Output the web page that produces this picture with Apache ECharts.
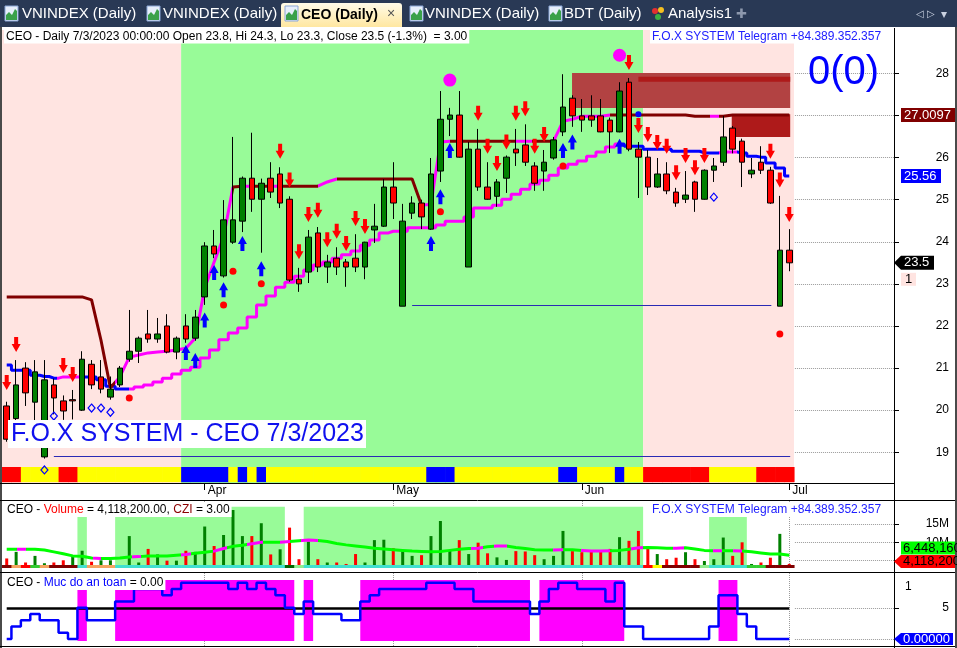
<!DOCTYPE html>
<html>
<head>
<meta charset="utf-8">
<title>CEO (Daily)</title>
<script src="https://cdn.jsdelivr.net/npm/echarts@6.0.0/dist/echarts.min.js"></script>
<style>
html,body{margin:0;padding:0;background:#ffffff;overflow:hidden;}
#chart{width:957px;height:648px;}
</style>
</head>
<body>
<div id="chart"></div>
<script>
// ================= DATA =================
const ticker = 'CEO';
const lastDate = '7/3/2023';
const monthTicks = [21, 41, 61, 83];
const monthLabels = ['Apr', 'May', 'Jun', 'Jul'];
const priceTicks = [19, 20, 21, 22, 23, 24, 25, 26, 27, 28];
const volumeTicks = [5, 10, 15];      // millions
const safetyTicks = [0, 5];

const open = [20.10,19.80,21.00,20.19,18.89,20.60,20.22,20.25,20.00,21.09,
  20.79,20.31,20.60,21.21,21.40,21.81,21.69,22.00,21.38,22.00,
  21.71,22.69,23.90,23.19,23.99,24.49,25.51,25.01,25.51,25.61,
  25.01,23.11,23.28,24.21,23.40,23.61,23.52,23.61,23.40,24.28,
  24.37,25.30,22.47,24.68,24.92,24.30,25.68,26.91,27.01,23.40,
  26.20,25.30,25.08,25.51,26.20,26.30,25.80,25.68,25.99,26.61,
  27.41,26.99,26.99,26.99,26.89,26.61,27.79,26.20,26.01,25.30,
  25.61,25.18,25.01,25.42,25.01,25.70,25.89,26.70,26.39,25.61,
  25.89,25.70,22.47,23.8];
const high = [20.20,21.19,21.14,21.19,21.19,20.75,20.35,20.48,21.40,21.19,
  21.19,20.80,21.05,22.38,21.75,22.38,22.19,22.28,21.75,22.28,
  22.38,23.99,24.28,24.99,26.49,25.55,26.59,25.50,25.89,25.77,
  25.08,23.38,24.28,24.35,23.69,23.87,23.59,24.18,24.00,24.90,
  25.49,25.89,24.90,25.08,25.00,25.99,27.58,27.18,27.58,26.37,
  26.68,25.89,25.49,26.05,26.68,26.79,25.89,26.18,26.49,27.98,
  27.48,27.39,27.48,27.39,26.95,27.79,27.89,26.37,26.18,25.99,
  25.89,25.28,25.68,25.45,25.72,25.99,26.99,26.75,26.45,25.99,
  26.27,25.78,25.09,24.3];
const low = [19.25,19.70,20.10,19.65,18.85,19.90,19.77,19.78,19.98,20.50,
  20.40,20.25,20.55,21.15,21.12,21.60,21.60,21.35,21.21,21.60,
  21.65,22.50,23.61,23.15,23.95,24.23,24.71,23.74,25.04,24.80,
  23.05,22.81,23.02,23.28,23.02,23.21,22.93,23.28,23.11,23.97,
  24.35,24.54,22.47,24.54,24.30,24.28,25.42,26.51,26.00,23.40,
  25.21,25.00,24.83,25.16,25.80,25.80,25.21,25.21,25.95,26.51,
  26.73,26.61,26.73,26.60,26.11,26.60,26.15,25.04,25.11,25.28,
  25.13,24.83,24.92,24.71,25.00,25.42,25.80,26.10,25.30,25.51,
  25.61,24.90,22.47,23.3];
const close = [19.31,20.60,20.41,20.91,20.72,20.29,19.98,20.22,21.21,20.60,
  20.50,20.50,21.00,21.40,21.71,21.69,21.81,21.38,21.71,21.69,
  22.21,23.90,23.71,24.52,24.52,25.51,25.01,25.39,25.18,24.92,
  23.09,23.00,24.11,23.40,23.52,23.40,23.40,23.40,23.99,24.37,
  25.30,24.92,24.49,24.92,24.59,25.61,26.91,27.01,26.01,26.20,
  25.30,25.01,25.42,26.01,26.11,25.89,25.39,25.89,26.42,27.20,
  26.99,26.89,26.89,26.61,26.61,27.58,26.20,26.01,25.30,25.61,
  25.21,24.92,25.11,25.01,25.70,25.80,26.49,26.20,25.89,25.70,
  25.70,24.92,23.8,23.5];

// trailing stop (blue / magenta staircase)
const trailStop = [21.07,20.95,20.95,20.83,20.80,20.76,20.79,20.79,20.79,20.79,
  20.72,20.57,20.50,20.50,20.55,20.60,20.67,20.76,20.86,20.95,
  21.02,21.24,21.43,21.67,21.83,21.95,22.21,22.50,22.71,22.92,
  23.04,23.18,23.33,23.45,23.52,23.61,23.69,23.78,23.92,24.04,
  24.21,24.25,24.25,24.33,24.33,24.33,24.40,24.49,24.49,24.59,
  24.80,24.80,24.87,25.01,25.13,25.25,25.37,25.46,25.58,25.75,
  25.84,25.92,26.03,26.13,26.25,26.32,26.27,26.27,26.20,26.20,
  26.20,26.15,26.15,26.15,26.11,26.11,26.13,26.13,26.11,26.03,
  26.01,25.87,25.75,25.56];
// resistance line (maroon / magenta)
const resistance = [22.69,22.69,22.69,22.69,22.69,22.69,22.69,22.69,22.69,22.62,
  21.66,20.53,20.79,21.26,21.31,21.36,21.38,21.40,21.43,21.47,
  21.71,22.90,23.52,24.11,25.30,25.32,25.32,25.32,25.32,25.32,
  25.32,25.32,25.32,25.32,25.42,25.49,25.49,25.49,25.49,25.49,
  25.49,25.49,25.49,25.49,24.87,24.89,26.37,26.39,26.39,26.39,
  26.39,26.39,26.39,26.39,26.39,26.39,26.39,26.39,26.39,26.86,
  26.91,26.98,26.98,26.98,27.0097,27.0097,27.0097,27.0097,27.0097,27.0097,
  27.0097,27.0097,27.0097,26.98,26.98,26.98,26.98,27.0097,27.0097,27.0097,
  27.0097,27.0097,27.0097,27.0097];
const trailMagenta = [[5.3,7.8],[13,65.3],[75.5,77.5]];
const resistMagenta = [[11.5,24],[25,26],[28,29],[33,35],[44.3,47],[54,55.7],[58,64],[74.6,75.6]];

// signal markers [bar, price]
const sellArrows = [[0,20.66],[1,21.56],[6,21.06],[7,20.85],[29,26.15],[30,25.47],[31,23.76],[32,24.65],
  [33,24.75],[34,24.05],[35,24.25],[36,23.96],[37,24.55],[38,24.36],[50,27.05],[51,26.27],[52,25.86],
  [53,26.37],[54,27.05],[55,27.16],[56,26.27],[57,26.55],[66,28.26],[67,26.76],[68,26.55],[69,26.36],
  [70,26.27],[71,25.64],[72,26.05],[73,25.76],[74,26.05],[81,26.15],[82,25.47],[83,24.65]];
const buyArrows = [[19,21.37],[20,21.18],[21,22.14],[22,23.27],[23,22.86],[25,23.96],[27,23.36],
  [45,23.96],[46,25.07],[47,26.17],[59,26.17],[60,26.37],[65,26.27]];
const redDots = [[13,20.29],[23,22.50],[24,23.30],[27,23.00],[46,24.71],[59,25.80],[82,21.81]];
const blueDiamonds = [[4,18.58],[5,19.86],[9,20.05],[10,20.05],[11,19.95],[75,25.06]];
const blueDots = [[67,27.03]];
const magentaDots = [[47,27.84],[65,28.43]];

// zones
const trendZones = [[-0.5,18.5,'down'],[18.5,67.5,'up'],[67.5,83.5,'down']];
const supplyZones = [[59.96,83.1,27.18,28.01,'a'],[67,83.1,27.80,27.92,'b'],[76.9,83.1,26.49,27.03,'b']];
const supportLines = [[43,81.1,22.50],[5,83.1,18.91]];
// bottom ribbon of the price pane: R red, Y yellow, B blue
const ribbon = ['RR','YYYY','RR','YYYYYYYYYYY','BBBBB','Y','B','Y','B','YYYYYYYYYYYYYYYYY',
  'BBB','YYYYYYYYYYY','BB','YYYY','B','YY','RRRRRRR','YYYYY','RRRR'].join('');

// volume pane (millions)
const volume = [5.6,7.4,4.5,6.3,4.3,4.5,5.1,6.5,7.7,4.7,
  5.1,5.1,3.8,11.7,4.5,8.2,6.7,5.0,5.0,7.7,
  7.4,14.3,9.0,12.0,18.8,11.7,11.7,15.2,6.7,8.1,
  14.0,5.4,10.2,5.4,4.5,4.5,4.1,6.8,4.5,10.6,
  10.7,8.4,7.7,6.3,6.5,11.7,15.8,7.7,10.6,6.8,
  9.9,7.0,5.9,5.2,7.6,7.5,6.5,5.4,6.3,13.1,
  7.6,7.3,7.7,7.7,8.2,11.4,10.4,13.1,8.5,6.8,
  5.4,5.8,7.3,5.4,4.9,5.4,11.3,6.3,10.0,4.1,
  4.5,5.8,12.3,4.1182];
const volumeUp = [0,1,0,1,1,0,0,1,1,0, 1,1,1,1,1,0,1,0,1,0, 1,1,0,1,1,1,0,1,0,1,
  0,0,1,0,1,0,0,0,1,1, 1,0,1,1,0,1,1,1,0,1, 0,0,1,1,0,0,0,1,1,1,
  0,0,0,0,0,1,0,0,0,1, 0,0,1,0,1,1,1,0,0,1, 0,0,1,0];
const volumeMA = [8.1,8.1,8.1,8.1,7.9,7.4,6.9,6.3,6.2,5.7,
  5.6,5.6,5.7,6.0,6.1,6.3,6.3,6.3,6.5,6.7,
  7.0,7.3,7.6,8.3,8.9,9.2,9.6,10.0,10.0,10.0,
  10.2,10.4,10.6,10.5,10.2,9.7,9.3,9.0,8.7,8.4,
  8.2,8.0,7.8,7.6,7.5,7.4,7.5,7.8,8.1,8.3,
  8.4,8.8,9.0,9.0,8.6,8.3,8.0,7.9,7.9,8.0,
  8.0,7.8,7.6,7.6,7.7,7.8,8.1,8.5,8.6,8.5,
  8.4,8.4,8.5,8.2,7.8,7.7,7.7,7.7,7.6,7.4,
  7.1,6.8,6.8,6.44816];
const volumeMagenta = [[1.1,2],[9.2,10],[13.3,14.2],[18.5,19.5],[21.9,23.4],[25.5,27.2],[29,30],[31.2,33],
  [49.2,50.5],[51.7,53.1],[57.9,59],[60.9,64],[66.2,67.5],[70.7,71.8],[74.9,75.9],[77,78]];
const volumeZones = [[7.5,8.5],[11.5,29.5],[31.5,67.5],[74.5,78.5]];
// D darkred, S sandy, R red, G green, T turquoise, K dark green, L light green, Y yellow
const volumeStrip = ['DSRGSDDD','T','SSS','TTTTTTTTT','TTTTTTTTT','K','L',
  'TTTTTTTTT','TTTTTTTTT','TTTTTTTTT','TTTTTTTTT','R','Y','DDDD','L','TTTT','GG','DDD'].join('');

// "Muc do an toan" pane
const safety = [0,2,3,4,3,3,1,0,5,3, 3,3,6,6,8,8,8,7,8,9, 9,9,9,9,8,9,8,9,8,7,
  5,4,6,4,4,4,3,3,6,7, 8,8,8,8,8,9,9,9,8,8, 6,6,6,6,6,6,4,6,8,9,
  9,8,8,8,6,9,2,2,0,0, 0,0,0,0,0,2,7,7,4,2, 0,0,0,0];
const safetyLevel = 5;
const safetyZones = [[7.5,8.5],[11.5,30.5],[31.5,32.5],[37.5,55.5],[56.5,65.5],[75.5,77.5]];

// ================= STYLE =================
const FONT = '"Liberation Sans", Arial, sans-serif';
const COL = {pink:'#ffe4e1', green:'#98fb98', up:'#008000', down:'#ff0000', blue:'#0000ff',
  magenta:'#ff00ff', maroon:'#800000', navy:'#2a2ab4'};
const ribbonColors = {R:'#ff0000', Y:'#ffff00', B:'#0000ff'};
const stripColors = {D:'#800000', S:'#f4a460', R:'#ff0000', G:'#32cd32', T:'#40e0d0', K:'#006400', L:'#90ee90', Y:'#ffff00'};
const X_MIN = -0.5, X_MAX = 94.11;
const RIB = [18.29, 18.65];
const STRIP = [3.0, 3.82];
const downArrow = 'path://M2.5,0 L6.5,0 L6.5,7 L9,7 L4.5,15 L0,7 L2.5,7 Z';
const upArrow = 'path://M4.5,0 L9,8 L6.5,8 L6.5,15 L2.5,15 L2.5,8 L0,8 Z';

const chart = echarts.init(document.getElementById('chart'), null, {renderer:'canvas', width:957, height:648});

function hiddenX(gi){ return {gridIndex:gi, type:'value', min:X_MIN, max:X_MAX, show:false}; }
function rightY(gi, min, max, ticks, labels, fmt){
  return {gridIndex:gi, type:'value', position:'right', min:min, max:max,
    axisLine:{show:false, onZero:false},
    axisTick:{show:true, customValues:ticks, length:5, lineStyle:{color:'#000'}},
    axisLabel:{show:true, customValues:labels, align:'right', margin:55, color:'#000', fontSize:12, fontFamily:FONT, formatter:fmt},
    splitLine:{show:false}};
}
const rightGrid = (vals) => vals.map(v => [{coord:[83.6, v]}, {coord:[X_MAX, v]}]);

function bandRenderer(colors, codes, range){
  return function(params, api){
    const i = api.value(0);
    const a = api.coord([i - 0.5, range[1]]);
    const b = api.coord([i + 0.5, range[0]]);
    return {type:'rect', shape:{x:a[0], y:a[1], width:b[0]-a[0]+0.6, height:b[1]-a[1]},
      style:{fill: colors[codes[i]]}};
  };
}

const option = {
  animation:false,
  backgroundColor:'#ffffff',
  grid:[
    {left:2, top:30, width:892, height:453},
    {left:2, top:500, width:892, height:68},
    {left:2, top:573, width:892, height:73}
  ],
  xAxis:[
    {gridIndex:0, type:'value', min:X_MIN, max:X_MAX, position:'bottom',
      axisLine:{show:true, onZero:false, lineStyle:{color:'#000', width:1}},
      axisTick:{show:true, customValues:monthTicks, length:7, inside:false, lineStyle:{color:'#000'}},
      axisLabel:{show:true, customValues:monthTicks, align:'left', margin:2, padding:[0,0,0,3],
        color:'#000', fontSize:12, fontFamily:FONT,
        formatter: v => monthLabels[monthTicks.indexOf(v)] || ''},
      splitLine:{show:false}},
    hiddenX(1), hiddenX(2)
  ],
  yAxis:[
    rightY(0, 18.27, 29.03, priceTicks, priceTicks, v => String(v)),
    rightY(1, 3.0, 3.0 + 68/3.67, volumeTicks, [10, 15], v => v + 'M'),
    rightY(2, -1.12, 10.56, safetyTicks, [5], v => String(v))
  ],
  visualMap:[
    {type:'piecewise', show:false, seriesIndex:1, dimension:0,
      pieces: trailMagenta.map(p => ({gte:p[0], lte:p[1], color:COL.magenta})), outOfRange:{color:COL.blue}},
    {type:'piecewise', show:false, seriesIndex:2, dimension:0,
      pieces: resistMagenta.map(p => ({gte:p[0], lte:p[1], color:COL.magenta})), outOfRange:{color:COL.maroon}},
    {type:'piecewise', show:false, seriesIndex:12, dimension:0,
      pieces: volumeMagenta.map(p => ({gte:p[0], lte:p[1], color:COL.magenta})), outOfRange:{color:'#00ff00'}}
  ],
  series:[
    // 0 ribbon + trend backgrounds + right-side grid lines
    {type:'custom', name:'ribbon', xAxisIndex:0, yAxisIndex:0, z:2, silent:true,
      data: ribbon.split('').map((c, i) => [i, 0]),
      renderItem: bandRenderer(ribbonColors, ribbon, RIB),
      markArea:{silent:true, z:0, data: trendZones.map(t => [
        {xAxis:t[0], itemStyle:{color: t[2] === 'up' ? COL.green : COL.pink}}, {xAxis:t[1]}])},
      markLine:{silent:true, z:1, symbol:'none', label:{show:false},
        lineStyle:{type:'dotted', color:'#9a9a9a', width:1}, data: rightGrid(priceTicks)}},
    // 1 trailing stop
    {type:'line', name:'trail', xAxisIndex:0, yAxisIndex:0, z:2, step:'middle', showSymbol:false, silent:true,
      data: trailStop.map((v, i) => [i, v]), lineStyle:{width:3}},
    // 2 resistance
    {type:'line', name:'resistance', xAxisIndex:0, yAxisIndex:0, z:2, showSymbol:false, silent:true,
      data: resistance.map((v, i) => [i, v]), lineStyle:{width:3}},
    // 3 candles
    {type:'candlestick', name:ticker, xAxisIndex:0, yAxisIndex:0, z:3, barWidth:6, silent:true,
      data: open.map((o, i) => [i, o, close[i], low[i], high[i]]),
      itemStyle:{color:COL.up, color0:COL.down, borderColor:'#000', borderColor0:'#000', borderWidth:1},
      markArea:{silent:true, z:1, data: supplyZones.map(z => [
        {coord:[z[0], z[3]], itemStyle:{color: z[4] === 'a' ? '#b24242' : '#ae1a1a'}}, {coord:[z[1], z[2]]}])},
      markLine:{silent:true, z:2, symbol:'none', label:{show:false},
        lineStyle:{type:'solid', color:COL.navy, width:1},
        data: supportLines.map(s => [{coord:[s[0], s[2]]}, {coord:[s[1], s[2]]}])}},
    // 4 sell arrows
    {type:'scatter', xAxisIndex:0, yAxisIndex:0, z:5, silent:true, data:sellArrows,
      symbol:downArrow, symbolSize:[9,15], itemStyle:{color:'#ff0000', opacity:1}},
    // 5 buy arrows
    {type:'scatter', xAxisIndex:0, yAxisIndex:0, z:5, silent:true, data:buyArrows,
      symbol:upArrow, symbolSize:[9,15], itemStyle:{color:'#0000ff', opacity:1}},
    // 6 red dots
    {type:'scatter', xAxisIndex:0, yAxisIndex:0, z:5, silent:true, data:redDots,
      symbol:'circle', symbolSize:7, itemStyle:{color:'#ff0000', opacity:1}},
    // 7 hollow diamonds
    {type:'scatter', xAxisIndex:0, yAxisIndex:0, z:5, silent:true, data:blueDiamonds,
      symbol:'diamond', symbolSize:[7,8], itemStyle:{color:'rgba(0,0,0,0)', borderColor:'#0000ff', borderWidth:1.2, opacity:1}},
    // 8 blue dot
    {type:'scatter', xAxisIndex:0, yAxisIndex:0, z:5, silent:true, data:blueDots,
      symbol:'circle', symbolSize:6, itemStyle:{color:'#0000ff', opacity:1}},
    // 9 magenta dots
    {type:'scatter', xAxisIndex:0, yAxisIndex:0, z:5, silent:true, data:magentaDots,
      symbol:'circle', symbolSize:13, itemStyle:{color:'#ff00ff', opacity:1}},
    // 10 volume bars
    {type:'bar', name:'Volume', xAxisIndex:1, yAxisIndex:1, z:2, barWidth:3, silent:true,
      data: volume.map((v, i) => ({value:[i, v], itemStyle:{color: volumeUp[i] ? COL.up : COL.down}})),
      markArea:{silent:true, z:1, itemStyle:{color:COL.green},
        data: volumeZones.map(z => [{coord:[z[0], STRIP[1]]}, {coord:[z[1], 19.7]}])},
      markLine:{silent:true, z:0, symbol:'none', label:{show:false},
        lineStyle:{type:'dotted', color:'#9a9a9a', width:1},
        data: rightGrid(volumeTicks).concat(monthTicks.map(m => ({xAxis:m})))}},
    // 11 volume strip
    {type:'custom', xAxisIndex:1, yAxisIndex:1, z:4, silent:true,
      data: volumeStrip.split('').map((c, i) => [i, 0]),
      renderItem: bandRenderer(stripColors, volumeStrip, STRIP)},
    // 12 volume MA
    {type:'line', xAxisIndex:1, yAxisIndex:1, z:3, showSymbol:false, silent:true,
      data: volumeMA.map((v, i) => [i, v]), lineStyle:{width:3}},
    // 13 safety step line
    {type:'line', name:'Muc do an toan', xAxisIndex:2, yAxisIndex:2, z:3, step:'middle', showSymbol:false, silent:true,
      data: safety.map((v, i) => [i, v]), lineStyle:{color:COL.blue, width:2.5}, itemStyle:{color:COL.blue},
      markArea:{silent:true, z:1, itemStyle:{color:COL.magenta},
        data: safetyZones.map(z => [{coord:[z[0], 9.44]}, {coord:[z[1], -0.32]}])},
      markLine:{silent:true, z:2, symbol:'none', label:{show:false},
        data: [[{coord:[0, safetyLevel], lineStyle:{type:'solid', color:'#000', width:2.5}}, {coord:[83, safetyLevel]}]]
          .concat(rightGrid(safetyTicks).map(p => [Object.assign({lineStyle:{type:'dotted', color:'#9a9a9a', width:1}}, p[0]), p[1]]))}},
    // 14 month dividers under safety blocks
    {type:'line', xAxisIndex:2, yAxisIndex:2, z:0, silent:true, showSymbol:false,
      data: [[X_MAX + 5, 0]],
      markLine:{silent:true, z:0, symbol:'none', label:{show:false},
        lineStyle:{type:'dotted', color:'#9a9a9a', width:1}, data: monthTicks.map(m => ({xAxis:m}))}}
  ]
};
chart.setOption(option);

// ================= TEXT & DECORATION =================
const yPix = (axis, v) => chart.convertToPixel({yAxisIndex:axis}, v);
const fmtInt = v => Math.round(v * 1e6).toLocaleString('en-US');
const n = close.length - 1;
const pct = ((close[n] - close[n-1]) / close[n-1] * 100).toFixed(1);

const G = [];
function txt(x, y, text, opt){
  G.push(Object.assign({type:'text', x:x, y:y, z:100, silent:true,
    style:Object.assign({text:text, fill:'#000', font:'12px ' + FONT, verticalAlign:'middle'}, opt || {})}));
}
function rect(x, y, w, h, fill, extra){
  G.push(Object.assign({type:'rect', z:100, silent:true, shape:{x:x, y:y, width:w, height:h}, style:{fill:fill}}, extra || {}));
}
function hline(x1, x2, y, color, w){
  G.push({type:'line', z:100, silent:true, shape:{x1:x1, y1:y, x2:x2, y2:y}, style:{stroke:color, lineWidth:w || 1}});
}
function vline(x, y1, y2, color, w){
  G.push({type:'line', z:100, silent:true, shape:{x1:x, y1:y1, x2:x, y2:y2}, style:{stroke:color, lineWidth:w || 1}});
}

// tab bar
rect(0, 0, 957, 27, '#293955');
G.push({type:'rect', z:100, silent:true, shape:{x:281, y:3, width:121, height:24, r:[3,3,0,0]},
  style:{fill:{type:'linear', x:0, y:0, x2:0, y2:1, colorStops:[{offset:0, color:'#fffbe8'}, {offset:1, color:'#ffe7a0'}]}}});
function tabIcon(x){
  rect(x, 6, 13, 15, '#e6eefb', {style:{fill:'#e6eefb', stroke:'#8aa6d6', lineWidth:1}});
  G.push({type:'polygon', z:101, silent:true, shape:{points:[[x+1,20],[x+1,15],[x+4,12],[x+7,15],[x+10,9],[x+12,11],[x+12,20]]},
    style:{fill:'#3aa14a'}});
}
[5, 147, 285, 410, 549].forEach(tabIcon);
txt(22, 14, 'VNINDEX (Daily)', {fill:'#ffffff', font:'15px ' + FONT});
txt(163, 14, 'VNINDEX (Daily)', {fill:'#ffffff', font:'15px ' + FONT});
txt(301, 15, ticker + ' (Daily)', {fill:'#000000', font:'bold 14px ' + FONT});
txt(387, 14, '×', {fill:'#555555', font:'14px ' + FONT});
txt(425, 14, 'VNINDEX (Daily)', {fill:'#ffffff', font:'15px ' + FONT});
txt(564, 14, 'BDT (Daily)', {fill:'#ffffff', font:'15px ' + FONT});
G.push({type:'circle', z:101, silent:true, shape:{cx:655, cy:11, r:3}, style:{fill:'#e53030'}});
G.push({type:'circle', z:101, silent:true, shape:{cx:661, cy:10, r:3}, style:{fill:'#f5c020'}});
G.push({type:'circle', z:101, silent:true, shape:{cx:658, cy:17, r:3}, style:{fill:'#3cb043'}});
txt(668, 14, 'Analysis1', {fill:'#ffffff', font:'15px ' + FONT});
txt(736, 14, '✚', {fill:'#8d98ad', font:'13px ' + FONT});
txt(916, 14, '◁', {fill:'#c9d1e0', font:'10px ' + FONT});
txt(927, 14, '▷', {fill:'#c9d1e0', font:'10px ' + FONT});
txt(941, 15, '▾', {fill:'#c9d1e0', font:'12px ' + FONT});

// frame
rect(0, 27, 957, 3, '#ffffff');
rect(0, 27, 2, 621, '#4a4a4a');
rect(955, 27, 2, 621, '#4a4a4a');
vline(894.5, 28, 648, '#000');
hline(0, 894, 483.5, '#000');
hline(0, 955, 500.5, '#000');
hline(0, 955, 572.5, '#000');
hline(0, 955, 646.5, '#000');

// pane titles
txt(4, 36.5, ticker + ' - Daily ' + lastDate + ' 00:00:00 Open ' + open[n] + ', Hi ' + high[n] + ', Lo ' + low[n] +
  ', Close ' + close[n] + ' (' + pct + '%)  = 3.00', {backgroundColor:'#ffffff', padding:[1,2,1,2]});
txt(650, 36.5, 'F.O.X SYSTEM Telegram +84.389.352.357', {fill:'#2020ff', backgroundColor:'#ffffff', padding:[1,2,1,2]});
txt(5, 510, '{k|' + ticker + ' - }{r|Volume}{k| = ' + fmtInt(volume[n]) + '.00, }{m|CZI}{k| = 3.00}',
  {backgroundColor:'#ffffff', padding:[1,2,1,2],
   rich:{k:{fill:'#000', font:'12px ' + FONT}, r:{fill:'#ff0000', font:'12px ' + FONT}, m:{fill:'#8b0000', font:'12px ' + FONT}}});
txt(650, 510, 'F.O.X SYSTEM Telegram +84.389.352.357', {fill:'#2020ff', backgroundColor:'#ffffff', padding:[1,2,1,2]});
txt(5, 583, '{k|' + ticker + ' - }{b|Muc do an toan}{k| = ' + safety[n].toFixed(2) + '}',
  {backgroundColor:'#ffffff', padding:[1,2,1,2],
   rich:{k:{fill:'#000', font:'12px ' + FONT}, b:{fill:'#0000ff', font:'12px ' + FONT}}});

// big annotations
rect(8, 420, 358, 28, '#ffffff');
txt(11, 434.5, 'F.O.X SYSTEM - ' + ticker + ' ' + lastDate, {fill:'#1010ee', font:'25px ' + FONT});
txt(808, 73, '0(0)', {fill:'#0000ff', font:'40px ' + FONT});

// right-side value labels
const yRes = yPix(0, resistance[n]);
rect(901, yRes - 7, 54, 14, '#800000');
txt(904, yRes, resistance[n].toFixed(4), {fill:'#ffffff', font:'13px ' + FONT});
const yTr = yPix(0, trailStop[n]);
rect(901, yTr - 7, 40, 14, '#0000ff');
txt(904, yTr, trailStop[n].toFixed(2), {fill:'#ffffff', font:'13px ' + FONT});
const yCl = yPix(0, close[n]);
G.push({type:'polygon', z:100, silent:true, shape:{points:[[894,yCl],[901,yCl-7],[934,yCl-7],[934,yCl+7],[901,yCl+7]]}, style:{fill:'#000'}});
txt(904, yCl, String(close[n]), {fill:'#ffffff', font:'13px ' + FONT});
rect(901, yCl + 10, 15, 13, '#ffe4e1');
txt(905, yCl + 16.5, '1', {font:'13px ' + FONT});

const volBottom = 568;
const yVol = Math.min(yPix(1, volume[n]), volBottom - 6.5);
const yMA = Math.min(yPix(1, volumeMA[n]), yVol - 13.5);
G.push({type:'polygon', z:100, silent:true, shape:{points:[[894,yVol],[901,yVol-6.5],[955,yVol-6.5],[955,yVol+6.5],[901,yVol+6.5]]}, style:{fill:'#ff0000'}});
txt(903, yVol, fmtInt(volume[n]), {font:'13px ' + FONT});
rect(901, yMA - 6.5, 54, 13, '#00ff00');
txt(903, yMA, fmtInt(volumeMA[n]), {font:'13px ' + FONT});

txt(905, 587, '1', {font:'12px ' + FONT});
const ySf = yPix(2, safety[n]);
G.push({type:'polygon', z:100, silent:true, shape:{points:[[894,ySf],[901,ySf-6],[953,ySf-6],[953,ySf+6],[901,ySf+6]]}, style:{fill:'#0000ff'}});
txt(903, ySf, safety[n].toFixed(5), {fill:'#ffffff', font:'13px ' + FONT});

chart.setOption({graphic:G});
</script>
</body>
</html>
